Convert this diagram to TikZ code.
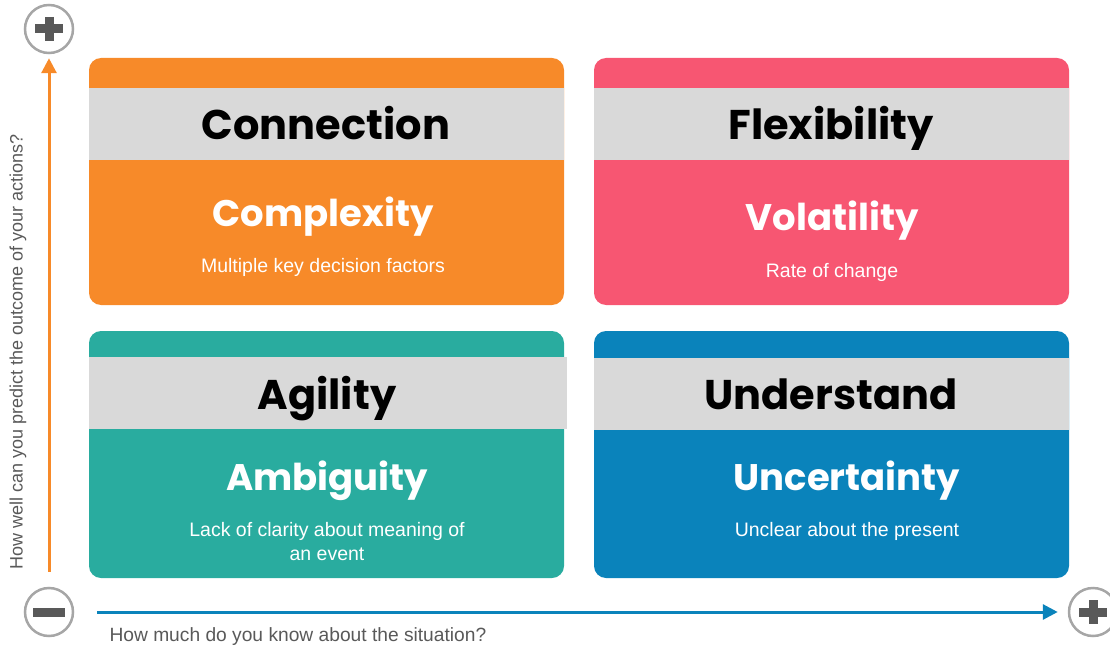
\documentclass[tikz,border=0pt]{standalone}
\usepackage{fontspec}
\setmainfont{Poppins}
\newfontfamily\arialfont{Liberation Sans}
\usepackage{tikz}
\usetikzlibrary{calc,arrows.meta}

\definecolor{qorange}{HTML}{F78A29}
\definecolor{qpink}{HTML}{F75672}
\definecolor{qteal}{HTML}{29AC9F}
\definecolor{qblue}{HTML}{0A83BB}
\definecolor{qband}{HTML}{D9D9D9}
\definecolor{qring}{HTML}{A6A6A6}
\definecolor{qsign}{HTML}{595959}

\begin{document}
\begin{tikzpicture}[x=1pt,y=-1pt]
  \tikzset{
  quadbox/.style={inner sep=0pt,minimum width=475pt,minimum height=247pt,rounded corners=12pt},
  quadband/.style={fill=qband,inner sep=0pt,minimum width=475pt,minimum height=72pt},
  quadhead/.style={anchor=base,font=\bfseries\fontsize{41.5}{46}\selectfont,text=black},
  quadname/.style={anchor=base,font=\bfseries\fontsize{37}{40}\selectfont,text=white},
  quadnote/.style={anchor=base,font=\arialfont\fontsize{19.5}{24}\selectfont,text=white,align=center},
  ring/.style={circle,draw=qring,line width=2.5pt,fill=white,inner sep=0pt,minimum size=48pt},
  signbar/.style={qsign,line width=9pt},
  axisarrow/.style={line width=3pt,-{Triangle[length=15pt,width=15pt]}},
  axlabel/.style={font=\arialfont\fontsize{18}{22}\selectfont,text=qsign},
  }
  \useasboundingbox (0,0) rectangle (1110,647);

  % the boxes
  \node[quadbox,fill=qorange] (tl) at (326.5,181.5) {};
  \node[quadbox,fill=qpink]   (tr) at (831.5,181.5) {};
  \node[quadbox,fill=qteal]   (bl) at (326.5,454.5) {};
  \node[quadbox,fill=qblue]   (br) at (831.5,454.5) {};

  % the grey bands
  \node[quadband] (tlband) at (326.5,124) {};
  \node[quadband] (trband) at (831.5,124) {};
  \node[quadband,minimum width=478pt] (blband) at (328,393) {};
  \node[quadband] (brband) at (831.5,394) {};

  % the texts
  \node[quadhead] (tlhead) at (326,140) {Connection};
  \node[quadhead] (trhead) at (831,140) {Flexibility};
  \node[quadhead] (blhead) at (327,409) {Agility};
  \node[quadhead] (brhead) at (831,409) {Understand};

  \node[quadname] (tlname) at (323,226) {Complexity};
  \node[quadname] (trname) at (832,230) {Volatility};
  \node[quadname] (blname) at (327,490) {Ambiguity};
  \node[quadname] (brname) at (847,490) {Uncertainty};

  \node[quadnote] (tlnote) at (323,272) {Multiple key decision factors};
  \node[quadnote] (trnote) at (832,277) {Rate of change};
  \node[quadnote] (blnote) at (327,560) {Lack of clarity about meaning of\\an event};
  \node[quadnote] (brnote) at (847,536) {Unclear about the present};

  % the plus and minus marks
  \node[ring] (yplus)  at (49,29)   {};
  \node[ring] (minus)  at (49,612)  {};
  \node[ring] (xplus)  at (1093,612) {};
  \draw[signbar] ($(yplus)+(-14,0)$) -- ($(yplus)+(14,0)$);
  \draw[signbar] ($(yplus)+(0,-12)$) -- ($(yplus)+(0,12)$);
  \draw[signbar] ($(xplus)+(-14,0)$) -- ($(xplus)+(14,0)$);
  \draw[signbar] ($(xplus)+(0,-12)$) -- ($(xplus)+(0,12)$);
  \draw[signbar] ($(minus)+(-16,0)$) -- ($(minus)+(16,0)$);

  % the axes
  \draw[axisarrow,qorange,shorten <=15pt,shorten >=4pt] (minus) -- (yplus);
  \draw[axisarrow,qblue,shorten <=23pt,shorten >=10pt] (minus) -- (xplus);
  \node[axlabel,rotate=90] (ylabel) at (18,352) {How well can you predict the outcome of your actions?};
  \node[axlabel,anchor=base west,font=\arialfont\fontsize{19.2}{22}\selectfont] (xlabel) at (106,641) {How much do you know about the situation?};
\end{tikzpicture}
\end{document}
